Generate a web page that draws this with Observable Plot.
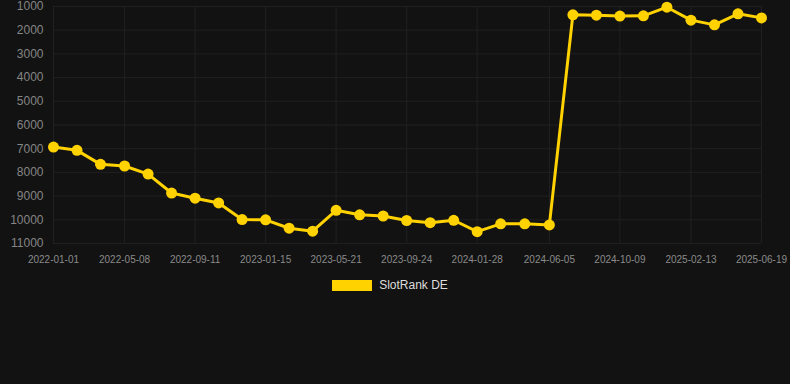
<!DOCTYPE html>
<html>
<head>
<meta charset="utf-8">
<script src="https://cdn.jsdelivr.net/npm/d3@7"></script>
<script src="https://cdn.jsdelivr.net/npm/@observablehq/plot@0.6"></script>
<style>
  html, body { margin: 0; padding: 0; background: #121212; width: 790px; height: 384px; overflow: hidden; }
  #chart svg { display: block; }
  .legend { display: flex; align-items: center; justify-content: center; gap: 7px; margin-top: 8px; padding-right: 10px; font-family: Arial, "Liberation Sans", sans-serif; font-size: 12px; color: #dddddd; }
  .legend .sw { width: 40px; height: 11px; background: #ffd200; }
</style>
</head>
<body>
<div id="chart"></div>
<div class="legend"><span class="sw"></span><span>SlotRank DE</span></div>
<script>
const dates = [
  "2022-01-01","2022-02-12","2022-03-26","2022-05-08","2022-06-19","2022-07-31",
  "2022-09-11","2022-10-23","2022-12-04","2023-01-15","2023-02-26","2023-04-09",
  "2023-05-21","2023-07-02","2023-08-13","2023-09-24","2023-11-05","2023-12-17",
  "2024-01-28","2024-03-10","2024-04-22","2024-06-05","2024-07-17","2024-08-28",
  "2024-10-09","2024-11-20","2025-01-01","2025-02-13","2025-03-27","2025-05-08",
  "2025-06-19"
];
const ranks = [
  6930, 7070, 7660, 7730, 8070, 8870,
  9090, 9290, 9990, 10000, 10355, 10480,
  9600, 9790, 9840, 10030, 10120, 10020,
  10500, 10170, 10170, 10215, 1350, 1365,
  1405, 1395, 1030, 1575, 1775, 1310,
  1480
];
const xTicks = ["2022-01-01","2022-05-08","2022-09-11","2023-01-15","2023-05-21","2023-09-24","2024-01-28","2024-06-05","2024-10-09","2025-02-13","2025-06-19"];
const yTicks = [1000,2000,3000,4000,5000,6000,7000,8000,9000,10000,11000];
const seriesName = "SlotRank DE";

const parse = d3.utcParse("%Y-%m-%d");
const data = dates.map((d, i) => ({date: parse(d), rank: ranks[i]}));

const chart = Plot.plot({
  width: 790,
  height: 270,
  marginLeft: 53,
  marginRight: 29,
  marginTop: 6,
  marginBottom: 27,
  style: {background: "#121212", fontFamily: "Arial, 'Liberation Sans', sans-serif", overflow: "visible"},
  x: {type: "utc", domain: [parse(xTicks[0]), parse(xTicks[xTicks.length-1])], ticks: xTicks.map(parse), tickFormat: d3.utcFormat("%Y-%m-%d")},
  y: {domain: [1000, 11000], reverse: true, ticks: yTicks},
  marks: [
    Plot.gridX(xTicks.map(parse), {stroke: "#202020", strokeOpacity: 1}),
    Plot.gridY(yTicks, {stroke: "#202020", strokeOpacity: 1}),
    Plot.axisX({ticks: xTicks.map(parse), tickFormat: d3.utcFormat("%Y-%m-%d"), tickSize: 0, tickPadding: 12, fontSize: 10, fill: "#8a8a8a", label: null}),
    Plot.axisY({ticks: yTicks, tickSize: 0, tickPadding: 10, fontSize: 12, fill: "#858585", label: null, tickFormat: d => String(d)}),
    Plot.line(data, {x: "date", y: "rank", stroke: "#ffd200", strokeWidth: 3}),
    Plot.dot(data, {x: "date", y: "rank", r: 5.5, fill: "#ffd200", stroke: "none"})
  ]
});
document.getElementById("chart").appendChild(chart);
</script>
</body>
</html>
